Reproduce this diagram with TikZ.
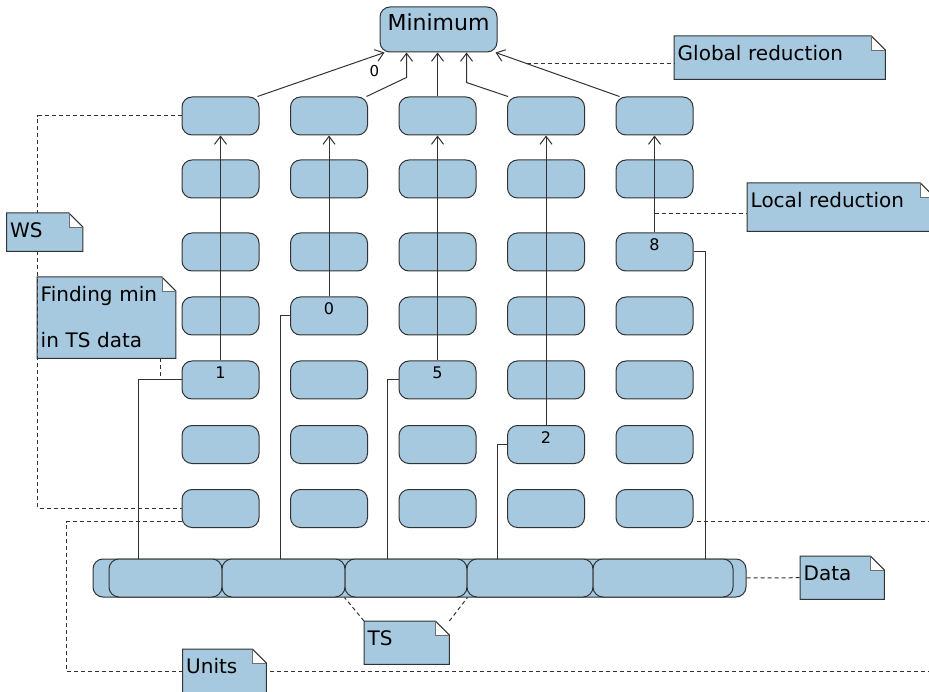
\documentclass[tikz,border=0pt]{standalone}
\usepackage{fontspec}
\setmainfont{DejaVu Sans}
\usetikzlibrary{arrows.meta}
\definecolor{unitblue}{RGB}{167,201,223}
\definecolor{edge}{RGB}{50,50,50}

% folded corner of a note
\newcommand{\notefold}[1]{%
  \fill[white] ([xshift=-14pt]#1.north east) rectangle ([yshift=-14pt]#1.north east);
  \draw[edge,line width=1pt] (#1.north west) -- ([xshift=-14pt]#1.north east) -- ([yshift=-14pt]#1.north east) -- (#1.south east) -- (#1.south west) -- cycle;
  \draw[edge!70,line width=0.6pt] ([xshift=-14pt]#1.north east) |- ([yshift=-14pt]#1.north east);
}

\begin{document}
\begin{tikzpicture}[x=1pt,y=-1pt,
  >={Straight Barb[length=8pt,width=12pt]},
  unit/.style={draw=edge,fill=unitblue,rounded corners=10pt,minimum width=77pt,minimum height=38pt,inner sep=0pt,line width=1pt},
  num/.style={font=\fontsize{16}{16}\selectfont,anchor=north,inner sep=0pt,yshift=-6pt},
  link/.style={edge,line width=1pt},
  noteline/.style={edge,line width=1pt,dash pattern=on 4pt off 3pt},
  note/.style={fill=unitblue,anchor=north west,inner xsep=3.5pt,inner ysep=0pt,text height=24pt,align=left,font=\fontsize{20}{46.6}\selectfont}]
\clip (0,0) rectangle (929,692);

% Result
\node[unit,minimum width=117pt,minimum height=0pt,text height=23.7pt,text depth=21.3pt,font=\fontsize{22}{22}\selectfont] (min) at (438.5,29.5) {Minimum};

% Units
\foreach \c in {1,...,5}
  \foreach \r/\y in {1/116,2/179,3/252,4/316,5/380,6/444.5,7/508.5}
    \node[unit] (b-\c-\r) at ({220.5+108.5*(\c-1)},\y) {};

% Data and time slices
\node[unit,minimum width=653pt] (bar) at (419.5,578) {};
\foreach \i/\x/\w in {1/165.5/113,2/283.5/123,3/406/122,4/530/126,5/663/140}
  \node[unit,minimum width={\w pt}] (s\i) at (\x,578) {};

% Local minima
\foreach \c/\r/\v in {1/5/1,2/4/0,3/5/5,4/6/2,5/3/8}
  \node[num] (v-\c) at (b-\c-\r.north) {\v};

% Data to units
\draw[link] ([xshift=-27.5pt]s1.north) |- (b-1-5.west);
\draw[link] ([xshift=-3pt]s2.north) |- (b-2-4.west);
\draw[link] ([xshift=-19pt]s3.north) |- (b-3-5.west);
\draw[link] ([xshift=-33pt]s4.north) |- (b-4-6.west);
\draw[link] ([xshift=42pt]s5.north) |- (b-5-3.east);

% Local reduction
\foreach \c/\r in {1/5,2/4,3/5,4/6}
  \draw[link,->] (b-\c-\r.north) -- (b-\c-1.south);
\draw[link,->] (b-5-3.north) -- coordinate[pos=0.2] (lr) (b-5-1.south);

% Global reduction
\draw[link,->] ([xshift=-2pt]b-1-1.north east) -- node[pos=0.92,below=6pt,text=black,font=\fontsize{15}{15}\selectfont] {0} ([xshift=5pt]min.south west);
\draw[link,->] ([xshift=-1.5pt]b-2-1.north east) -- ([xshift=27pt,yshift=-25pt]min.south west) -- ([xshift=27pt]min.south west);
\draw[link,->] (b-3-1.north) -- (b-3-1.north |- min.south);
\draw[link,->] ([xshift=1pt]b-4-1.north west) -- ([xshift=87pt,yshift=-30pt]min.south west) -- ([xshift=87pt]min.south west);
\draw[link,->] ([xshift=4pt]b-5-1.north west) -- coordinate[pos=0.75] (gr) ([xshift=-2pt]min.south east);

% Notes
\node[note,text width=204pt,text depth=19pt] (glob) at (674,36) {Global reduction};
\node[note,text width=180pt,text depth=24pt] (lred) at (747,183) {Local reduction};
\node[note,text width=69pt,text depth=14pt] (ws) at (6.5,213) {WS};
\node[note,text width=131.5pt,text depth=57pt] (find) at (37,277) {Finding min\\in TS data};
\node[note,text width=77pt,text depth=19pt] (data) at (800,556) {Data};
\node[note,text width=78pt,text depth=19pt] (ts) at (364,621) {TS};

% Note links
\draw[noteline] (gr) -- (gr -| glob.west);
\draw[noteline] (lr) -- (lr -| lred.west);
\draw[noteline] (b-1-1.west) -| ([xshift=-7pt]ws.north);
\draw[noteline] ([xshift=-7pt]ws.south) |- (b-1-7.west);
\draw[noteline] ([xshift=-15pt]find.south east) -- ([xshift=-15pt]find.south east |- b-1-5.west);
\draw[noteline] (bar.east) -- (data.west);
\draw[noteline] (ts.north west) -- (s3.south west);
\draw[noteline] (ts.north east) -- (s3.south east);
\draw[noteline] ([yshift=-13pt]b-1-7.west) -| (66,671) -- (960,671) |- ([yshift=-13pt]b-5-7.east);

\node[note,text width=76.5pt,text depth=20pt] (units) at (182.5,649) {Units};

\foreach \n in {glob,lred,ws,find,data,ts,units}
  {\notefold{\n}}
\end{tikzpicture}
\end{document}
